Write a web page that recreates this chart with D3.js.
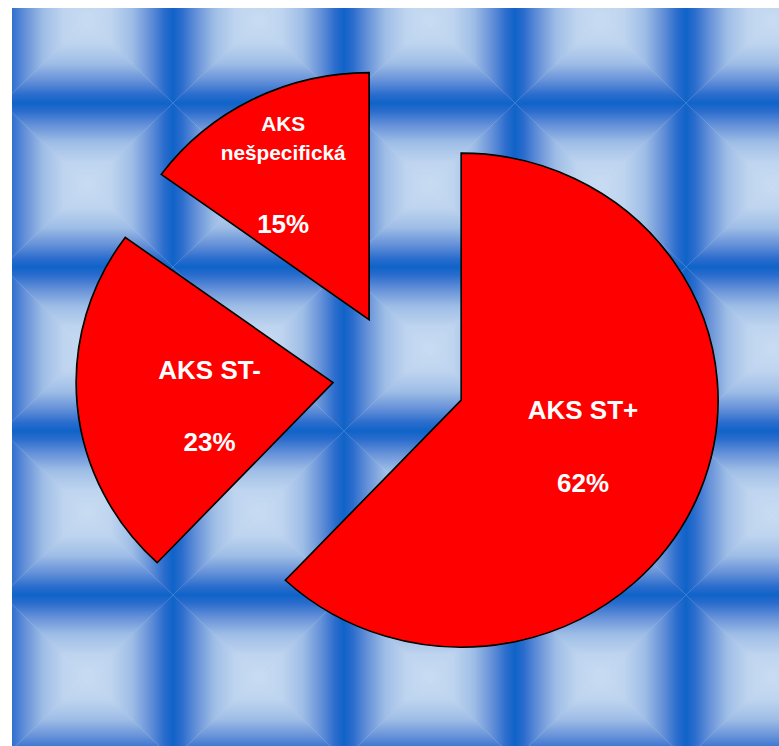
<!DOCTYPE html>
<html>
<head>
<meta charset="utf-8">
<script src="https://cdn.jsdelivr.net/npm/d3@7"></script>
<style>
  html, body { margin: 0; padding: 0; background: #fff; }
  svg { display: block; }
</style>
</head>
<body>
<svg id="chart" width="779" height="746"></svg>
<script>
// Share of acute coronary syndrome types
const categories = ["AKS ST+", "AKS ST-", "AKS nešpecifická"];
const values = [62, 23, 15];
const nameLines = [["AKS ST+"], ["AKS ST-"], ["AKS", "nešpecifická"]];
const valueLabels = ["62%", "23%", "15%"];

const W = 779, H = 746;
const svg = d3.select("#chart");
const defs = svg.append("defs");

// ---- bevelled tile background ----
const dark = "#0f63c8", light = "#c9dcf2";
const stops = [
  [0, dark], [0.1, "#2a6ccd"], [0.28, "#6893d9"],
  [0.48, "#9ebde6"], [0.72, "#bed4ef"], [1, light]
];
const gradDirs = {
  top: [0, 0, 0, 1], bottom: [0, 1, 0, 0], left: [0, 0, 1, 0], right: [1, 0, 0, 0]
};
Object.entries(gradDirs).forEach(([k, [x1, y1, x2, y2]]) => {
  const g = defs.append("linearGradient").attr("id", "tile-" + k)
    .attr("x1", x1).attr("y1", y1).attr("x2", x2).attr("y2", y2);
  stops.forEach(([o, c]) => g.append("stop").attr("offset", o).attr("stop-color", c));
});
const tw = 171, th = 164, tcx = tw / 2, tcy = th / 2;
const pat = defs.append("pattern").attr("id", "tiles")
  .attr("patternUnits", "userSpaceOnUse")
  .attr("x", 2).attr("y", -61).attr("width", tw).attr("height", th);
pat.append("rect").attr("width", tw).attr("height", th).attr("fill", "#b4cdec");
const tris = {
  top: [[0, 0], [tw, 0], [tcx, tcy]],
  bottom: [[0, th], [tw, th], [tcx, tcy]],
  left: [[0, 0], [0, th], [tcx, tcy]],
  right: [[tw, 0], [tw, th], [tcx, tcy]]
};
Object.entries(tris).forEach(([k, pts]) => {
  pat.append("polygon")
    .attr("points", pts.map(p => p.join(",")).join(" "))
    .attr("fill", `url(#tile-${k})`);
});
svg.append("rect").attr("x", 12).attr("y", 8)
  .attr("width", W - 12).attr("height", H - 8)
  .attr("fill", "url(#tiles)");

// ---- exploded pie ----
const R = 247, explode = 64, stretchX = 1.04;
// label anchor per slice: [fraction of the slice's angle, fraction of the radius]
const labelAt = [[0.5, 0.51], [0.43, 0.49], [0.45, 0.675]];

const arcs = d3.pie().sort(null).value(d => d)(values);
const arc = d3.arc().innerRadius(0).outerRadius(R);

const root = svg.append("g")
  .attr("transform", `translate(399.3,376.6) scale(${stretchX},1)`);

const slices = root.selectAll("g.slice").data(arcs).join("g")
  .attr("class", "slice")
  .attr("transform", d => {
    const a = (d.startAngle + d.endAngle) / 2;
    return `translate(${explode * Math.sin(a)},${-explode * Math.cos(a)})`;
  });

slices.append("path")
  .attr("d", arc)
  .attr("fill", "#ff0000")
  .attr("stroke", "#000")
  .attr("stroke-width", 1.6)
  .attr("stroke-linejoin", "miter");

slices.each(function (d, i) {
  const [fa, fr] = labelAt[i];
  const a = d.startAngle + fa * (d.endAngle - d.startAngle);
  const rr = R * fr;
  const lx = rr * Math.sin(a), ly = -rr * Math.cos(a);
  const nameSize = nameLines[i].length > 1 ? 20 : 25;
  const lines = nameLines[i].map(t => ({ t, s: nameSize }))
    .concat([{ t: "", s: 25 }, { t: valueLabels[i], s: 25 }]);
  let y = 0;
  const base = [];
  lines.forEach((l, j) => { if (j > 0) y += 1.45 * l.s; base.push(y); });
  const top = -0.716 * lines[0].s;
  const shift = ly - (top + y) / 2;
  const text = d3.select(this).append("text")
    .attr("text-anchor", "middle")
    .attr("fill", "#fff")
    .attr("font-family", "'Liberation Sans', Arial, sans-serif")
    .attr("font-weight", "bold");
  lines.forEach((l, j) => {
    if (l.t) text.append("tspan")
      .attr("x", lx).attr("y", base[j] + shift)
      .attr("font-size", l.s).text(l.t);
  });
});
</script>
</body>
</html>
